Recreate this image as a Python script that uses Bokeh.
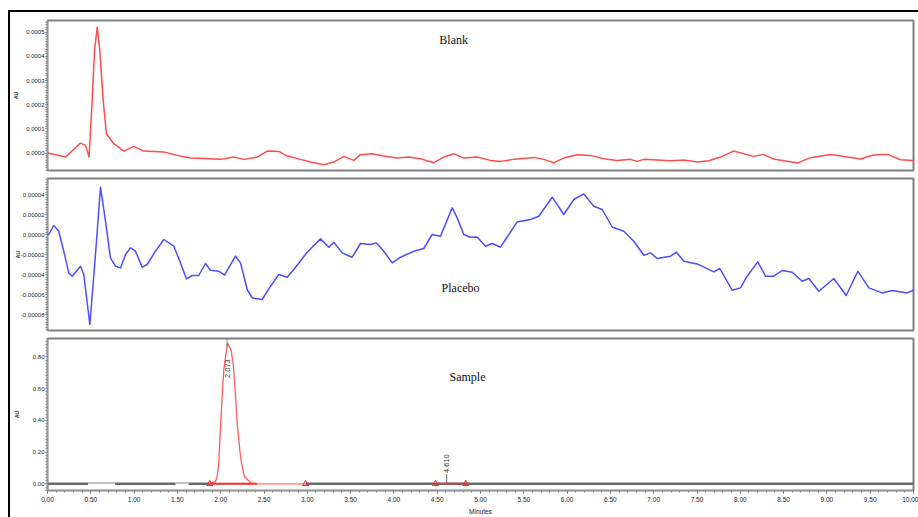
import numpy as np
from bokeh.plotting import figure
from bokeh.layouts import column
from bokeh.models import FixedTicker, PrintfTickFormatter, Range1d, Label
from bokeh.embed import file_html
from bokeh.resources import INLINE

# ---------------- data ----------------
# Blank chromatogram (minutes, AU)
blank_t = [0.00, 0.21, 0.38, 0.44, 0.48, 0.516, 0.543, 0.574, 0.604, 0.643,
           0.68, 0.766, 0.881, 0.997, 1.112, 1.343, 1.497, 1.651, 1.998, 2.151,
           2.267, 2.421, 2.537, 2.671, 2.768, 2.921, 3.037, 3.191, 3.306, 3.422,
           3.537, 3.614, 3.749, 3.883, 4.038, 4.172, 4.307, 4.461, 4.576, 4.692,
           4.807, 4.962, 5.115, 5.231, 5.384, 5.615, 5.731, 5.846, 5.962, 6.117,
           6.270, 6.424, 6.578, 6.732, 6.809, 6.886, 7.040, 7.194, 7.348, 7.502,
           7.636, 7.771, 7.921, 8.152, 8.268, 8.383, 8.661, 8.811, 9.042, 9.238,
           9.388, 9.538, 9.700, 9.850, 10.0]
blank_au = [0.0, -1.65e-5, 4.13e-5, 3.18e-5, -1.65e-5, 2.18e-4, 4.24e-4, 5.20e-4, 4.24e-4, 2.18e-4,
            8.0e-5, 3.88e-5, 8.3e-6, 2.77e-5, 8.3e-6, 4.1e-6, -9.5e-6, -2.07e-5, -2.6e-5, -1.65e-5,
            -2.6e-5, -1.65e-5, 8.3e-6, 7.0e-6, -1.24e-5, -2.6e-5, -3.72e-5, -4.79e-5, -3.72e-5, -1.36e-5,
            -3.02e-5, -6.6e-6, -2.5e-6, -1.24e-5, -2.07e-5, -1.65e-5, -2.31e-5, -3.97e-5, -1.65e-5, -2.5e-6,
            -2.07e-5, -1.65e-5, -3.02e-5, -3.43e-5, -2.6e-5, -1.78e-5, -2.6e-5, -3.97e-5, -2.07e-5, -6.6e-6,
            -9.5e-6, -2.31e-5, -3.02e-5, -2.6e-5, -3.43e-5, -2.6e-5, -2.89e-5, -3.14e-5, -2.89e-5, -3.72e-5,
            -3.14e-5, -1.65e-5, 8.3e-6, -1.36e-5, -5.4e-6, -2.48e-5, -4.13e-5, -1.9e-5, -5.4e-6, -1.65e-5,
            -2.48e-5, -8.3e-6, -5.4e-6, -2.73e-5, -3.02e-5]

# Placebo chromatogram (minutes, micro-AU)
placebo_t = [0.015, 0.073, 0.13, 0.188, 0.246, 0.285, 0.381, 0.419, 0.489, 0.554,
             0.612, 0.67, 0.727, 0.785, 0.843, 0.901, 0.958, 1.016, 1.093, 1.151,
             1.247, 1.343, 1.459, 1.536, 1.605, 1.671, 1.747, 1.824, 1.882, 1.978,
             2.044, 2.171, 2.229, 2.306, 2.364, 2.479, 2.575, 2.671, 2.768, 2.844,
             2.999, 3.152, 3.248, 3.306, 3.403, 3.518, 3.614, 3.730, 3.799, 3.883,
             3.98, 4.076, 4.23, 4.345, 4.442, 4.538, 4.673, 4.731, 4.807, 4.884,
             4.962, 5.058, 5.135, 5.231, 5.327, 5.424, 5.577, 5.673, 5.828, 5.962,
             6.078, 6.193, 6.308, 6.405, 6.521, 6.655, 6.770, 6.886, 6.963, 7.04,
             7.194, 7.263, 7.348, 7.502, 7.694, 7.763, 7.906, 8.002, 8.079, 8.202,
             8.291, 8.387, 8.484, 8.599, 8.715, 8.791, 8.907, 9.080, 9.223, 9.357,
             9.484, 9.638, 9.754, 9.927, 10.0]
placebo_uau = [0.0, 9.0, 3.3, -16.7, -38.4, -41.7, -31.7, -40.0, -90.0, -20.0,
               47.3, 13.3, -23.4, -31.7, -33.4, -20.0, -13.4, -16.7, -32.7, -30.0,
               -16.7, -5.0, -11.7, -28.4, -44.4, -41.0, -41.0, -29.0, -35.7, -36.7,
               -40.7, -21.7, -28.4, -55.0, -63.4, -65.0, -51.7, -40.0, -42.7, -35.0,
               -17.7, -4.4, -12.7, -7.7, -18.4, -22.7, -9.0, -10.0, -8.4, -16.7,
               -28.4, -22.7, -16.7, -14.0, 0.0, -1.7, 26.6, 16.6, 0.0, -2.7,
               -2.4, -11.7, -9.0, -12.7, 0.0, 12.6, 15.0, 18.3, 37.3, 20.0,
               35.0, 40.6, 28.3, 25.0, 7.5, 3.3, -6.7, -20.7, -18.4, -24.0,
               -21.7, -17.7, -26.7, -29.4, -37.4, -34.0, -55.7, -53.4, -41.7, -27.4,
               -41.7, -41.7, -36.0, -37.7, -46.7, -44.0, -56.7, -44.0, -61.0, -36.7,
               -53.4, -58.4, -56.0, -58.4, -55.7]

# Sample chromatogram (minutes, AU)
sample_base_t = [[0.0, 0.47], [0.78, 1.48], [1.63, 1.874], [2.98, 10.0]]
sample_base_au = [[0.0, 0.0], [0.0, 0.0], [0.0, 0.0], [0.0, 0.0]]
sample_bump_t = [[0.47, 0.78], [1.48, 1.63]]
sample_bump_au = [[0.006, 0.006], [0.006, 0.006]]
peak1_t = [1.874, 1.94, 1.959, 1.978, 1.99, 2.006, 2.021, 2.036, 2.055, 2.08,
           2.121, 2.144, 2.159, 2.174, 2.19, 2.209, 2.229, 2.248, 2.275, 2.344, 2.42]
peak1_au = [0.0, 0.015, 0.046, 0.13, 0.277, 0.445, 0.591, 0.717, 0.80, 0.886,
            0.843, 0.759, 0.654, 0.528, 0.382, 0.277, 0.172, 0.109, 0.046, 0.008, 0.0]
tail_t = [2.42, 2.98]
tail_au = [0.0, 0.0]
int1_t = [1.874, 2.42]
int1_au = [0.0, 0.0]
int2_t = [4.48, 4.83]
int2_au = [0.002, 0.002]
marker_t = [1.874, 2.98, 4.48, 4.83]
marker_au = [0.0, 0.0, 0.0, 0.0]
peak_names = ["2.073", "4.610"]
peak_rt = [2.073, 4.61]

x_ticks = [i * 0.5 for i in range(21)]
blank_ticks = [0.0, 0.0001, 0.0002, 0.0003, 0.0004, 0.0005]
placebo_ticks = [-8e-5, -6e-5, -4e-5, -2e-5, 0.0, 2e-5, 4e-5]
sample_ticks = [0.0, 0.2, 0.4, 0.6, 0.8]

# ---------------- styling ----------------
TICK_FONT = "'Liberation Sans', Arial, sans-serif"
TITLE_FONT = "'Liberation Serif', 'Times New Roman', serif"
W = 908
LEFT = 37
RIGHT = 5


def make_fig(height, top, bottom, yr, ticks, minor, fmt, au_standoff, xaxis=False):
    p = figure(width=W, height=height, x_range=Range1d(0, 10), y_range=Range1d(*yr),
               output_backend="svg", toolbar_location=None,
               x_axis_location="below" if xaxis else None,
               min_border_left=LEFT, min_border_right=RIGHT,
               min_border_top=top, min_border_bottom=bottom)
    p.grid.visible = False
    p.outline_line_color = "#808080"
    p.outline_line_width = 2
    p.background_fill_color = "white"
    p.border_fill_color = "white"
    ya = p.yaxis[0]
    ya.ticker = FixedTicker(ticks=ticks, minor_ticks=minor)
    ya.formatter = PrintfTickFormatter(format=fmt)
    ya.major_label_text_font = TICK_FONT
    ya.major_label_text_font_size = "6px"
    ya.major_label_text_color = "#222"
    ya.major_label_standoff = 1
    ya.major_tick_in = 0
    ya.major_tick_out = 2
    ya.minor_tick_in = 0
    ya.minor_tick_out = 2
    ya.major_tick_line_color = "#555"
    ya.minor_tick_line_color = "#888"
    ya.axis_line_color = "#999"
    ya.axis_label = "AU"
    ya.axis_label_text_font = TICK_FONT
    ya.axis_label_text_font_size = "5px"
    ya.axis_label_text_font_style = "bold"
    ya.axis_label_text_color = "#333"
    ya.axis_label_standoff = au_standoff
    return p


def frange(a, b, step):
    n = int(round((b - a) / step))
    return [a + i * step for i in range(n + 1)]


def line_style():
    return dict(line_width=1.5, line_join="round", line_cap="round")


# Blank
p1 = make_fig(162, 8, 4, (-0.000072, 0.000548), blank_ticks,
              frange(-7e-5, 5.4e-4, 1e-5), "%.4f", 4)
p1.line(blank_t, blank_au, line_color="#ff3a3a", line_alpha=0.9, **line_style())
p1.add_layout(Label(x=4.69, y=0.000466, text="Blank", text_font=TITLE_FONT,
                    text_font_size="12px", text_align="center", text_baseline="middle",
                    text_color="#111"))

# Placebo
p2 = make_fig(160, 4, 4, (-0.000096, 0.000056), placebo_ticks,
              frange(-9.5e-5, 5.5e-5, 2.5e-6), "%.5f", -3)
p2.line(placebo_t, np.array(placebo_uau) * 1e-6, line_color="#3a3aff", line_alpha=0.9,
        **line_style())
p2.add_layout(Label(x=4.77, y=-5.37e-5, text="Placebo", text_font=TITLE_FONT,
                    text_font_size="12px", text_align="center", text_baseline="middle",
                    text_color="#111"))

# Sample
p3 = make_fig(183, 4, 27, (-0.042, 0.916), sample_ticks,
              frange(-0.04, 0.9, 0.02), "%.2f", 10, xaxis=True)
xa = p3.xaxis[0]
xa.ticker = FixedTicker(ticks=x_ticks, minor_ticks=frange(0.0, 10.0, 0.1))
xa.formatter = PrintfTickFormatter(format="%.2f")
xa.major_label_text_font = TICK_FONT
xa.major_label_text_font_size = "6.5px"
xa.major_label_text_color = "#222"
xa.major_label_standoff = 3
xa.major_tick_in = 0
xa.major_tick_out = 3
xa.minor_tick_in = 0
xa.minor_tick_out = 2
xa.major_tick_line_color = "#555"
xa.minor_tick_line_color = "#888"
xa.axis_line_color = "#999"
xa.axis_label = "Minutes"
xa.axis_label_text_font = TICK_FONT
xa.axis_label_text_font_size = "6.5px"
xa.axis_label_text_font_style = "normal"
xa.axis_label_text_color = "#222"
xa.axis_label_standoff = 3

p3.multi_line(sample_base_t, sample_base_au, line_color="#6a6a6a", line_width=2.5)
p3.multi_line(sample_bump_t, sample_bump_au, line_color="#c0c0c0", line_width=2)
p3.line(tail_t, tail_au, line_color="#ff9a9a", line_width=1.8)
p3.line(int1_t, int1_au, line_color="#ee2a2a", line_width=2)
p3.line(peak1_t, peak1_au, line_color="#ff4a4a", line_alpha=0.9, line_width=1.3,
        line_join="round")
p3.line(int2_t, int2_au, line_color="#ff3030", line_width=1.5)
p3.scatter(marker_t, marker_au, marker="triangle", size=6, fill_alpha=0,
           line_color="#ff2020", line_width=1)
p3.segment(x0=[peak_rt[1]], y0=[0.005], x1=[peak_rt[1]], y1=[0.062],
           line_color="#444", line_width=0.8)
p3.segment(x0=[peak_rt[0]], y0=[0.86], x1=[peak_rt[0]], y1=[0.912],
           line_color="#666", line_width=0.7)
p3.add_layout(Label(x=peak_rt[0], y=0.667, text=peak_names[0], angle=np.pi / 2,
                    text_font=TICK_FONT, text_font_size="7.5px", text_align="left",
                    text_baseline="middle", text_color="#333"))
p3.add_layout(Label(x=peak_rt[1], y=0.068, text=peak_names[1], angle=np.pi / 2,
                    text_font=TICK_FONT, text_font_size="7.5px", text_align="left",
                    text_baseline="middle", text_color="#333"))
p3.add_layout(Label(x=4.85, y=0.673, text="Sample", text_font=TITLE_FONT,
                    text_font_size="12px", text_align="center", text_baseline="middle",
                    text_color="#111"))

layout = column(p1, p2, p3, spacing=0, margin=(10, 0, 0, 8),
                styles={"border-left": "2px solid black", "border-top": "2px solid black"})

open("out.html", "w").write(file_html(layout, INLINE))
